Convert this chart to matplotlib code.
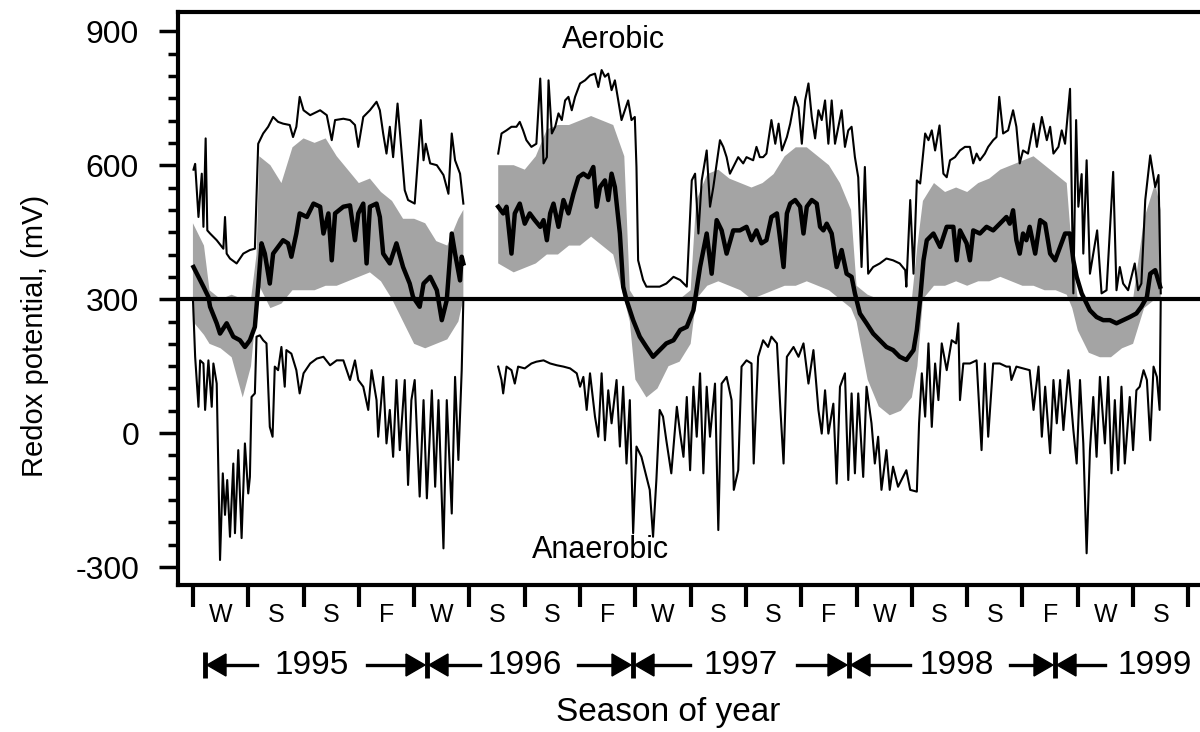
import numpy as np
import matplotlib.pyplot as plt
from matplotlib.patches import Polygon

plt.rcParams['font.family'] = ['Liberation Sans Narrow', 'DejaVu Sans Condensed', 'Liberation Sans',
                               'DejaVu Sans']
plt.rcParams['axes.unicode_minus'] = False

# time axis is in seasons from the start of winter 1995, values in mV
seasons = ['W', 'S', 'S', 'F'] * 4 + ['W', 'S']
years = ['1995', '1996', '1997', '1998', '1999']

# daily maximum (thin upper line)
max_pts = [
    (0.01, 590), (0.04, 603), (0.10, 484), (0.16, 581), (0.19, 462), (0.23, 660), (0.26, 454),
    (0.31, 447), (0.43, 432), (0.55, 413), (0.58, 484), (0.61, 402), (0.67, 391), (0.79, 380),
    (0.91, 402), (1.03, 410), (1.12, 413), (1.18, 648), (1.27, 671), (1.36, 686), (1.45, 708),
    (1.54, 697), (1.63, 693), (1.75, 690), (1.81, 663), (1.87, 686), (1.93, 753), (2.00, 723),
    (2.12, 712), (2.30, 723), (2.42, 712), (2.51, 656), (2.57, 701), (2.72, 704), (2.84, 701),
    (2.93, 690), (2.99, 641), (3.08, 708), (3.20, 723), (3.32, 742), (3.38, 723), (3.44, 671),
    (3.50, 626), (3.56, 686), (3.62, 618), (3.70, 738), (3.76, 648), (3.83, 544), (3.89, 522),
    (4.01, 514), (4.12, 701), (4.17, 611), (4.21, 648), (4.29, 604), (4.41, 600), (4.53, 578),
    (4.62, 536), (4.68, 671), (4.74, 611), (4.83, 581), (4.89, 514),
    (5.20, np.nan),
    (5.52, 626), (5.58, 671), (5.67, 678), (5.76, 686), (5.85, 686), (5.91, 697), (5.97, 678),
    (6.03, 656), (6.12, 641), (6.21, 648), (6.28, 794), (6.34, 604), (6.40, 618), (6.43, 790),
    (6.49, 671), (6.55, 686), (6.61, 716), (6.67, 701), (6.73, 745), (6.79, 753), (6.85, 723),
    (6.91, 753), (7.00, 783), (7.09, 790), (7.18, 801), (7.27, 805), (7.33, 775), (7.39, 813),
    (7.45, 798), (7.51, 805), (7.57, 768), (7.63, 790), (7.69, 745), (7.75, 701), (7.81, 723),
    (7.87, 745), (7.93, 701), (7.99, 708), (8.02, 596), (8.05, 387), (8.14, 343), (8.20, 328),
    (8.32, 328), (8.44, 328), (8.56, 335), (8.69, 350), (8.81, 343), (8.93, 328), (9.02, 566),
    (9.08, 581), (9.14, 447), (9.20, 566), (9.29, 633), (9.35, 507), (9.41, 551), (9.53, 656),
    (9.59, 641), (9.65, 618), (9.71, 581), (9.77, 596), (9.86, 618), (9.95, 604), (10.01, 618),
    (10.13, 611), (10.19, 641), (10.25, 618), (10.31, 618), (10.37, 626), (10.46, 701),
    (10.53, 648), (10.59, 693), (10.65, 633), (10.74, 663), (10.80, 693), (10.89, 753),
    (10.95, 730), (11.01, 648), (11.07, 745), (11.13, 783), (11.19, 708), (11.25, 660),
    (11.31, 723), (11.37, 701), (11.43, 745), (11.49, 648), (11.55, 745), (11.61, 648),
    (11.67, 686), (11.73, 723), (11.79, 641), (11.85, 678), (11.91, 686), (11.97, 618),
    (12.03, 573), (12.09, 372), (12.15, 596), (12.21, 357), (12.30, 372), (12.42, 380),
    (12.54, 391), (12.66, 387), (12.78, 380), (12.88, 365), (12.90, 328), (12.97, 522),
    (13.03, 357), (13.09, 566), (13.15, 559), (13.24, 671), (13.30, 656), (13.36, 678),
    (13.42, 633), (13.50, 689), (13.57, 581), (13.63, 573), (13.69, 611), (13.78, 618),
    (13.87, 633), (13.96, 641), (14.05, 641), (14.11, 604), (14.17, 626), (14.23, 611),
    (14.32, 626), (14.38, 641), (14.47, 656), (14.53, 663), (14.58, 753), (14.65, 671),
    (14.74, 678), (14.83, 723), (14.89, 686), (14.95, 604), (15.01, 633), (15.10, 626),
    (15.20, 693), (15.26, 641), (15.35, 708), (15.44, 656), (15.50, 686), (15.56, 626),
    (15.65, 641), (15.71, 678), (15.77, 648), (15.86, 771), (15.92, 313), (15.97, 701),
    (16.01, 507), (16.07, 580), (16.10, 402), (16.16, 611), (16.22, 357), (16.28, 402),
    (16.35, 454), (16.43, 313), (16.52, 320), (16.64, 585), (16.70, 320), (16.76, 372),
    (16.82, 335), (16.91, 320), (17.03, 380), (17.09, 320), (17.15, 335), (17.22, 522),
    (17.31, 622), (17.40, 551), (17.46, 578), (17.50, 313),
]

# daily mean (thick line)
mean_pts = [
    (0.01, 372), (0.10, 350), (0.19, 328), (0.28, 305), (0.31, 283), (0.43, 246), (0.49, 223),
    (0.61, 246), (0.73, 216), (0.85, 208), (0.94, 193), (1.03, 208), (1.12, 238), (1.18, 328),
    (1.24, 425), (1.30, 402), (1.39, 335), (1.45, 402), (1.54, 417), (1.63, 432), (1.72, 425),
    (1.78, 395), (1.87, 447), (1.93, 492), (2.06, 484), (2.18, 514), (2.30, 507), (2.36, 447),
    (2.45, 492), (2.51, 387), (2.57, 492), (2.72, 507), (2.84, 510), (2.93, 432), (2.99, 492),
    (3.08, 514), (3.14, 380), (3.20, 507), (3.32, 514), (3.38, 484), (3.44, 402), (3.56, 380),
    (3.68, 425), (3.80, 372), (3.92, 335), (3.98, 305), (4.10, 283), (4.17, 335), (4.29, 350),
    (4.41, 320), (4.50, 253), (4.59, 298), (4.68, 447), (4.74, 402), (4.83, 342), (4.86, 395),
    (4.89, 380),
    (5.20, np.nan),
    (5.52, 507), (5.61, 492), (5.67, 507), (5.76, 402), (5.82, 492), (5.91, 514), (6.00, 469),
    (6.09, 492), (6.18, 477), (6.28, 462), (6.34, 477), (6.40, 432), (6.46, 492), (6.52, 514),
    (6.61, 462), (6.70, 522), (6.79, 492), (6.88, 536), (6.97, 573), (7.06, 581), (7.15, 573),
    (7.24, 596), (7.30, 507), (7.36, 551), (7.45, 566), (7.51, 522), (7.57, 581), (7.63, 551),
    (7.72, 447), (7.78, 328), (7.84, 298), (7.96, 253), (8.08, 216), (8.20, 193), (8.32, 171),
    (8.44, 186), (8.56, 201), (8.69, 208), (8.81, 231), (8.93, 238), (9.05, 275), (9.17, 372),
    (9.29, 447), (9.38, 357), (9.47, 477), (9.56, 454), (9.65, 402), (9.77, 454), (9.89, 454),
    (10.01, 462), (10.10, 432), (10.19, 454), (10.28, 425), (10.37, 432), (10.46, 484),
    (10.56, 492), (10.62, 432), (10.68, 372), (10.74, 492), (10.80, 514), (10.89, 522),
    (10.98, 507), (11.04, 447), (11.10, 507), (11.19, 522), (11.28, 514), (11.34, 462),
    (11.40, 454), (11.46, 469), (11.55, 447), (11.64, 372), (11.73, 410), (11.82, 357),
    (11.91, 350), (11.97, 313), (12.06, 268), (12.18, 246), (12.30, 223), (12.42, 208),
    (12.54, 193), (12.66, 186), (12.78, 171), (12.90, 164), (13.03, 186), (13.09, 231),
    (13.15, 300), (13.21, 387), (13.27, 432), (13.39, 447), (13.51, 417), (13.63, 462),
    (13.75, 462), (13.81, 387), (13.87, 454), (13.99, 425), (14.05, 387), (14.11, 454),
    (14.23, 447), (14.35, 462), (14.47, 454), (14.59, 469), (14.71, 484), (14.77, 469),
    (14.83, 499), (14.89, 432), (14.95, 402), (15.01, 447), (15.07, 432), (15.13, 462),
    (15.23, 402), (15.32, 477), (15.41, 469), (15.50, 402), (15.59, 387), (15.68, 417),
    (15.77, 447), (15.86, 447), (15.92, 387), (15.98, 350), (16.07, 313), (16.22, 275),
    (16.34, 260), (16.46, 253), (16.58, 253), (16.70, 246), (16.82, 253), (16.94, 260),
    (17.06, 268), (17.15, 283), (17.25, 305), (17.31, 357), (17.40, 365), (17.49, 328),
]

# daily minimum (thin lower line)
min_pts = [
    (0.00, 300), (0.04, 171), (0.10, 59), (0.13, 163), (0.19, 156), (0.22, 52), (0.28, 163),
    (0.34, 59), (0.37, 156), (0.43, 111), (0.46, -90), (0.49, -284), (0.54, -90), (0.58, -183),
    (0.62, -105), (0.67, -232), (0.73, -68), (0.76, -224), (0.82, -38), (0.88, -235),
    (0.94, -23), (1.00, -135), (1.03, -98), (1.06, 81), (1.12, 89), (1.15, 216), (1.21, 219),
    (1.27, 208), (1.33, 201), (1.39, 14), (1.44, -8), (1.48, 149), (1.54, 141), (1.60, 193),
    (1.66, 104), (1.69, 186), (1.78, 178), (1.87, 141), (1.93, 89), (2.00, 134), (2.12, 156),
    (2.24, 167), (2.36, 171), (2.48, 152), (2.60, 163), (2.72, 163), (2.84, 119), (2.93, 163),
    (2.99, 119), (3.08, 104), (3.17, 52), (3.23, 141), (3.32, 74), (3.35, -8), (3.44, 126),
    (3.50, -23), (3.56, 52), (3.62, -53), (3.68, 119), (3.74, -38), (3.83, 119), (3.89, -116),
    (3.95, 74), (4.01, 119), (4.10, -142), (4.17, 74), (4.23, -146), (4.32, 96), (4.38, -120),
    (4.44, 74), (4.53, -258), (4.59, 74), (4.68, -180), (4.74, 126), (4.80, -60), (4.86, 141),
    (4.89, 300),
    (5.20, np.nan),
    (5.52, 149), (5.58, 119), (5.61, 89), (5.67, 149), (5.76, 141), (5.82, 111), (5.88, 149),
    (6.00, 145), (6.12, 156), (6.21, 160), (6.34, 163), (6.46, 156), (6.58, 152), (6.70, 149),
    (6.82, 145), (6.94, 134), (7.00, 104), (7.06, 126), (7.12, 52), (7.18, 134), (7.27, 37),
    (7.33, -8), (7.39, 134), (7.45, -16), (7.51, 96), (7.57, 22), (7.66, 119), (7.72, -30),
    (7.78, 104), (7.84, -68), (7.90, 74), (7.96, -224), (8.02, -30), (8.11, -53), (8.20, -98),
    (8.26, -127), (8.32, -232), (8.38, -105), (8.44, 52), (8.50, 37), (8.56, -16), (8.65, -90),
    (8.75, 59), (8.81, -1), (8.87, -53), (8.93, 81), (8.99, -83), (9.05, 104), (9.11, -8),
    (9.17, 134), (9.23, -90), (9.29, 104), (9.35, -8), (9.44, 111), (9.50, -217), (9.56, 111),
    (9.65, 126), (9.74, 74), (9.78, -127), (9.86, -83), (9.92, 149), (10.01, 163),
    (10.10, 156), (10.14, -68), (10.22, 171), (10.31, 208), (10.40, 193), (10.46, 216),
    (10.56, 201), (10.62, 59), (10.68, -68), (10.74, 171), (10.86, 193), (10.95, 171),
    (11.04, 201), (11.13, 111), (11.22, 186), (11.31, 52), (11.37, -1), (11.43, 96),
    (11.49, -1), (11.58, 66), (11.64, -113), (11.70, 104), (11.79, 134), (11.85, -105),
    (11.91, 89), (11.97, -90), (12.03, 89), (12.12, -98), (12.18, 104), (12.27, 22),
    (12.33, -68), (12.39, -8), (12.45, -127), (12.54, -38), (12.60, -127), (12.66, -75),
    (12.75, -120), (12.84, -98), (12.90, -83), (12.97, -127), (13.09, -131), (13.13, 22),
    (13.18, 134), (13.24, 37), (13.30, 201), (13.36, 14), (13.42, 156), (13.48, 74),
    (13.54, 201), (13.63, 141), (13.72, 208), (13.80, 201), (13.84, 246), (13.87, 74),
    (13.93, 156), (14.05, 156), (14.17, 163), (14.26, -38), (14.32, 156), (14.38, -8),
    (14.47, 156), (14.59, 156), (14.71, 149), (14.77, 149), (14.80, 119), (14.89, 149),
    (15.01, 145), (15.13, 141), (15.20, 52), (15.29, 149), (15.35, -8), (15.41, 104),
    (15.50, -45), (15.56, 119), (15.62, 22), (15.68, 119), (15.74, 7), (15.83, 141),
    (15.92, 7), (15.98, -68), (16.04, 119), (16.10, -23), (16.16, -269), (16.22, -38),
    (16.28, 81), (16.34, -53), (16.40, 126), (16.49, -23), (16.55, 126), (16.61, -90),
    (16.67, 74), (16.73, -83), (16.79, 104), (16.85, -68), (16.94, 81), (17.00, -38),
    (17.06, 96), (17.12, 104), (17.19, 141), (17.25, 119), (17.31, -16), (17.37, 149),
    (17.43, 126), (17.48, 52), (17.50, 300),
]

# grey band: (season, upper, lower)
band = [
    (0.00, 470, 250), (0.20, 420, 220), (0.30, 320, 200), (0.50, 300, 190), (0.70, 310, 170),
    (0.90, 300, 80), (1.05, 300, 150), (1.15, 400, 280), (1.20, 620, 330), (1.40, 600, 280),
    (1.60, 560, 290), (1.80, 640, 320), (2.00, 660, 320), (2.20, 650, 320), (2.40, 660, 330),
    (2.60, 620, 330), (2.80, 590, 340), (3.00, 560, 350), (3.20, 570, 360), (3.40, 540, 340),
    (3.60, 520, 300), (3.80, 480, 250), (4.00, 480, 200), (4.20, 470, 190), (4.40, 430, 200),
    (4.60, 420, 210), (4.80, 480, 250), (4.89, 500, 300),
    (5.20, np.nan, np.nan),
    (5.52, 600, 380), (5.80, 600, 360), (6.00, 590, 370), (6.20, 620, 380), (6.40, 680, 400),
    (6.60, 690, 400), (6.80, 690, 420), (7.00, 700, 420), (7.20, 710, 440), (7.40, 700, 420),
    (7.60, 690, 400), (7.80, 620, 300), (7.90, 320, 250), (8.00, 300, 120), (8.20, 300, 80),
    (8.40, 300, 100), (8.60, 300, 150), (8.80, 300, 160), (9.00, 320, 200), (9.10, 520, 300),
    (9.30, 580, 330), (9.50, 590, 340), (9.70, 570, 330), (9.90, 560, 320), (10.10, 550, 300),
    (10.30, 560, 310), (10.50, 580, 320), (10.70, 620, 330), (10.90, 640, 330),
    (11.10, 640, 340), (11.30, 620, 330), (11.50, 600, 320), (11.70, 560, 300),
    (11.90, 500, 280), (12.00, 330, 250), (12.20, 310, 120), (12.40, 300, 60),
    (12.60, 300, 40), (12.80, 300, 50), (13.00, 300, 80), (13.10, 420, 150), (13.20, 520, 300),
    (13.40, 560, 330), (13.60, 540, 330), (13.80, 550, 340), (14.00, 540, 330),
    (14.20, 560, 340), (14.40, 570, 340), (14.60, 590, 350), (14.80, 600, 340),
    (15.00, 610, 330), (15.20, 620, 330), (15.40, 600, 320), (15.60, 580, 320),
    (15.80, 560, 310), (15.90, 400, 280), (16.00, 300, 230), (16.20, 300, 180),
    (16.40, 300, 170), (16.60, 300, 170), (16.80, 300, 190), (17.00, 300, 200),
    (17.20, 480, 280), (17.40, 560, 300), (17.50, 500, 300),
]

fig = plt.figure(figsize=(12, 7.32), dpi=100)
ax = fig.add_axes([178 / 1200, 1 - 585 / 732, 1022 / 1200, 573 / 732])

bs, bhi, blo = zip(*band)
ax.fill_between(bs, blo, bhi, color='#a4a4a4', lw=0, zorder=1)
ax.axhline(300, color='black', lw=3, zorder=3)

for pts, lw in ((max_pts, 1.5), (min_pts, 1.5), (mean_pts, 3.2)):
    t, v = zip(*pts)
    ax.plot(t, v, color='black', lw=lw, zorder=4)

ax.set_xlim(-0.27, 18.21)
ax.set_ylim(-340, 943)

ax.set_yticks([-300, 0, 300, 600, 900])
ax.set_yticks(np.arange(-300, 901, 50), minor=True)
ax.tick_params(axis='y', which='major', length=14, width=2.5, labelsize=23, pad=14)
ax.tick_params(axis='y', which='minor', length=7, width=2.5)

ax.set_xticks(np.arange(19))
ax.set_xticklabels([])
ax.set_xticks(np.arange(18) + 0.5, minor=True)
ax.set_xticklabels(seasons, minor=True)
ax.tick_params(axis='x', which='major', length=16, width=3)
ax.tick_params(axis='x', which='minor', length=0, labelsize=18, pad=13)

for side in ('left', 'bottom', 'top'):
    ax.spines[side].set_linewidth(3)
ax.spines['right'].set_visible(False)

fig.text(613 / 1200, 1 - 40 / 732, 'Aerobic', fontsize=22, ha='center', va='center')
fig.text(600 / 1200, 1 - 550 / 732, 'Anaerobic', fontsize=22, ha='center', va='center')
fig.text(35 / 1200, 1 - 336 / 732, 'Redox potential, (mV)', fontsize=21, rotation=90,
         ha='center', va='center')
fig.text(668 / 1200, 1 - 713 / 732, 'Season of year', fontsize=24, ha='center', va='center')

# year arrows under the season labels, drawn in pixel space
deco = fig.add_axes([0, 0, 1, 1], zorder=5)
deco.set_xlim(0, 1200)
deco.set_ylim(732, 0)
deco.axis('off')

ry = 665
bars = [205, 427, 633, 849, 1055]
label_x = [312, 525, 741, 957, 1155]
left_end = [257, 480, 690, 910, 1105]
right_start = [367, 578, 797, 1010]

for b in bars:
    deco.plot([b, b], [ry - 13, ry + 13], color='black', lw=3.5, solid_capstyle='butt')
for i, yr in enumerate(years):
    deco.text(label_x[i], ry, yr, fontsize=24, ha='center', va='center')
    b = bars[i]
    deco.add_patch(Polygon([[b + 2, ry], [b + 21, ry - 11], [b + 21, ry + 11]], color='black'))
    deco.plot([b + 18, left_end[i]], [ry, ry], color='black', lw=2.4)
    if i < len(right_start):
        nb = bars[i + 1]
        deco.add_patch(Polygon([[nb - 2, ry], [nb - 21, ry - 11], [nb - 21, ry + 11]],
                               color='black'))
        deco.plot([right_start[i], nb - 18], [ry, ry], color='black', lw=2.4)

fig.savefig('out.png', dpi=100)
